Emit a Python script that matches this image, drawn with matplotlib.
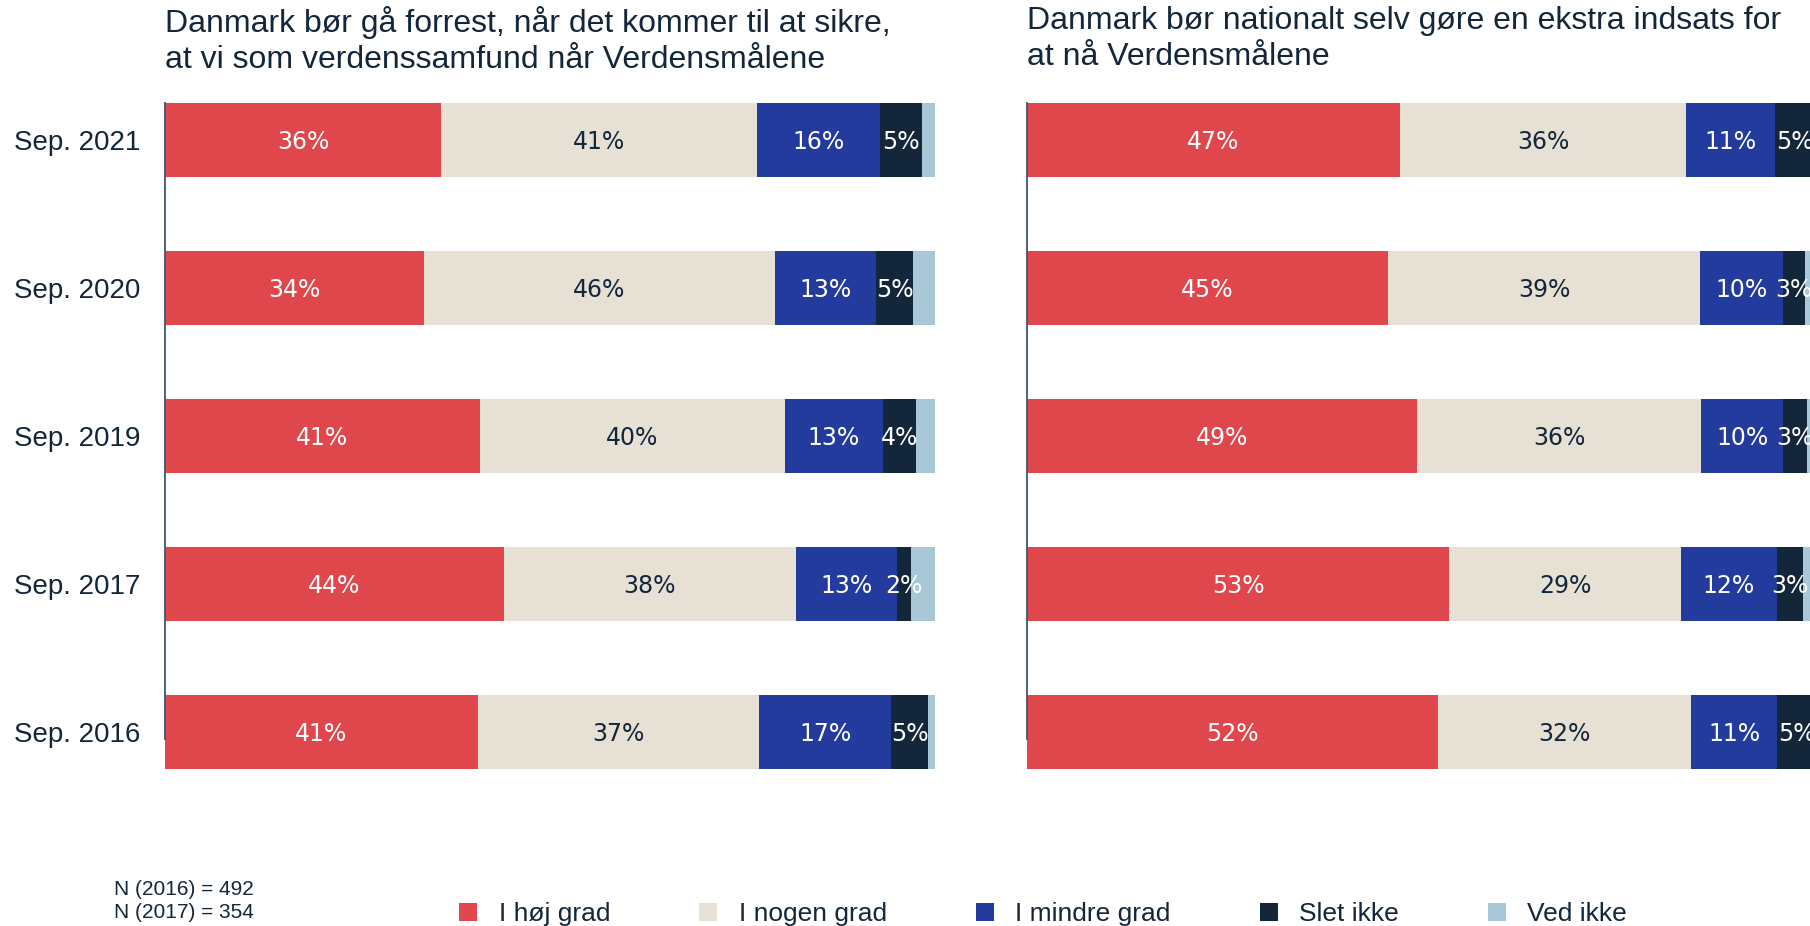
import numpy as np
import matplotlib.pyplot as plt
from matplotlib.patches import Patch

plt.rcParams['font.family'] = ['Liberation Sans', 'DejaVu Sans']

years = ["Sep. 2016", "Sep. 2017", "Sep. 2019", "Sep. 2020", "Sep. 2021"]
categories = ["I høj grad", "I nogen grad", "I mindre grad", "Slet ikke", "Ved ikke"]
colors = ["#E0474C", "#E7E0D5", "#243B9E", "#13263A", "#A8C8D8"]
label_colors = ["white", "#13263A", "white", "white", None]

# left chart: Danmark bør gå forrest ...
hoej_l = [40.6, 44.0, 40.9, 33.6, 35.9]
nogen_l = [36.6, 37.9, 39.6, 45.6, 41.0]
mindre_l = [17.1, 13.2, 12.7, 13.1, 16.0]
slet_l = [4.8, 1.8, 4.3, 4.9, 5.4]
vedikke_l = [0.9, 3.1, 2.5, 2.8, 1.7]

# right chart: Danmark bør nationalt selv gøre ...
hoej_r = [51.7, 53.1, 49.1, 45.4, 46.9]
nogen_r = [31.8, 29.2, 35.7, 39.3, 36.0]
mindre_r = [10.9, 12.0, 10.3, 10.4, 11.2]
slet_r = [5.0, 3.3, 3.0, 2.8, 5.0]
vedikke_r = [0.6, 2.4, 1.9, 2.1, 0.9]

title_l = "Danmark bør gå forrest, når det kommer til at sikre,\nat vi som verdenssamfund når Verdensmålene"
title_r = "Danmark bør nationalt selv gøre en ekstra indsats for\nat nå Verdensmålene"
notes = "N (2016) = 492\nN (2017) = 354"

navy = "#13263A"

fig = plt.figure(figsize=(18.1, 9.26), dpi=100)
W, H = 1810, 926
ax_l = fig.add_axes([165 / W, 1 - 806 / H, 770 / W, 740 / H])
ax_r = fig.add_axes([1027 / W, 1 - 806 / H, 795 / W, 740 / H])


def draw(ax, series):
    y = np.arange(len(years))
    left = np.zeros(len(years))
    for vals, col, lc in zip(series, colors, label_colors):
        vals = np.array(vals)
        ax.barh(y, vals, left=left, height=0.5, color=col, edgecolor="none")
        if lc is not None:
            for yi, l, v in zip(y, left, vals):
                ax.text(l + v / 2, yi - 0.015, f"{v:.0f}%", ha="center", va="center",
                        color=lc, fontsize=17, family="DejaVu Sans")
        left += vals
    ax.set_xlim(0, 100)
    ax.set_ylim(-0.5, 4.5)
    for s in ["top", "right", "bottom"]:
        ax.spines[s].set_visible(False)
    ax.spines["left"].set_color("#44546A")
    ax.spines["left"].set_linewidth(1.3)
    ax.spines["left"].set_bounds(-0.05, 4.25)
    ax.set_xticks([])
    ax.set_yticks(y)
    ax.tick_params(axis="y", length=0, pad=18, labelsize=20, labelcolor=navy)


draw(ax_l, [hoej_l, nogen_l, mindre_l, slet_l, vedikke_l])
draw(ax_r, [hoej_r, nogen_r, mindre_r, slet_r, vedikke_r])
ax_l.set_yticklabels(years)
ax_r.set_yticklabels([])

fig.text(165 / W, 1 - 6 / H, title_l, ha="left", va="top", fontsize=23,
         color=navy, linespacing=1.25)
fig.text(1027 / W, 1 - 6 / H, title_r, ha="left", va="top", fontsize=23,
         color=navy, linespacing=1.25)

fig.text(114 / W, 1 - 880 / H, notes, ha="left", va="top", fontsize=15,
         color=navy, linespacing=1.25)

handles = [Patch(facecolor=c, edgecolor="none") for c in colors]
fig.legend(handles, categories, loc="center left", bbox_to_anchor=(459 / W, 1 - 914 / H),
           ncol=5, frameon=False, fontsize=19, handlelength=0.7, handleheight=0.7,
           handletextpad=0.8, columnspacing=3.37, borderpad=0, borderaxespad=0,
           labelcolor=navy)

plt.savefig("out.png", dpi=100)
